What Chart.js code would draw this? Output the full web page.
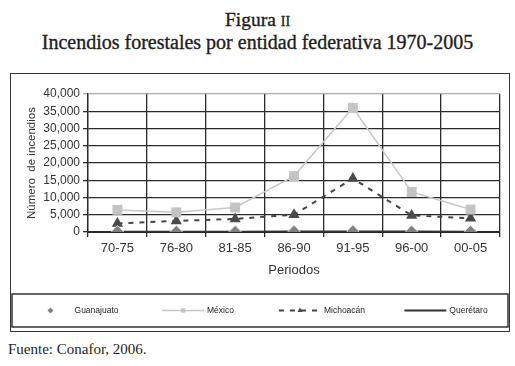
<!DOCTYPE html>
<html lang="es">
<head>
<meta charset="utf-8">
<script src="https://cdn.jsdelivr.net/npm/chart.js@4"></script>
<style>
  body {
    margin: 0;
    width: 515px;
    height: 366px;
    position: relative;
    overflow: hidden;
    background: #fff;
    color: #1e1e1e;
    font-family: "Liberation Serif", "DejaVu Serif", serif;
  }
  .title {
    position: absolute; left: 0; width: 515px; text-align: center;
    line-height: 1; -webkit-text-stroke: 0.35px #1e1e1e;
  }
  #t1 { top: 10px; font-size: 19.5px; }
  #t1 span { font-variant: small-caps; }
  #t2 { top: 32px; font-size: 20px; }
  #box { position: absolute; left: 10px; top: 73px; width: 500px; height: 260px; }
  #fuente { position: absolute; left: 8px; top: 342px; font-size: 15px; line-height: 1; }
</style>
</head>
<body>
<div class="title" id="t1">Figura <span>ii</span></div>
<div class="title" id="t2">Incendios forestales por entidad federativa 1970-2005</div>
<div id="box"><canvas id="grafica"></canvas></div>
<div id="fuente">Fuente: Conafor, 2006.</div>

<script>
// Datos
const periodos = ["70-75", "76-80", "81-85", "86-90", "91-95", "96-00", "00-05"];
const guanajuato = [150, 120, 130, 200, 250, 180, 160];
const mexico = [6400, 5700, 7100, 16200, 36000, 11600, 6500];
const michoacan = [2500, 3200, 3800, 5000, 15500, 4800, 4000];
const queretaro = [100, 80, 90, 120, 150, 110, 100];

/** Marco exterior y leyenda dibujados a mano */
const marcoLeyenda = {
  id: "marcoLeyenda",
  afterDraw(chart) {
    const ctx = chart.ctx;
    const w = chart.width;
    ctx.save();
    // marco exterior
    ctx.strokeStyle = "#333";
    ctx.lineWidth = 1;
    ctx.strokeRect(0.5, 0.5, w - 1, 258);
    // caja de la leyenda
    const top = 221, bottom = 254, left = 2, right = w - 2;
    ctx.lineWidth = 1.5;
    ctx.strokeRect(left, top, right - left, bottom - top);

    const cy = (top + bottom) / 2;
    const quarter = (right - left) / chart.data.datasets.length;
    ctx.font = "8.5px 'Liberation Sans', Arial, sans-serif";
    ctx.textBaseline = "middle";
    chart.data.datasets.forEach((ds, i) => {
      const sample = 42;
      const textW = ctx.measureText(ds.label).width;
      const itemW = sample + 3 + textW;
      const x0 = left + quarter * i + (quarter - itemW) / 2;
      ctx.save();
      if (ds.showLine !== false) {
        ctx.strokeStyle = ds.borderColor;
        ctx.lineWidth = ds.borderWidth;
        ctx.setLineDash(ds.borderDash || []);
        ctx.beginPath();
        ctx.moveTo(x0, cy);
        ctx.lineTo(x0 + sample, cy);
        ctx.stroke();
      }
      ctx.setLineDash([]);
      if (ds.pointRadius > 0) {
        ctx.fillStyle = ds.pointBackgroundColor;
        ctx.strokeStyle = ds.pointBorderColor;
        Chart.helpers.drawPoint(ctx, {
          pointStyle: ds.pointStyle,
          radius: 3,
          rotation: 0,
          borderWidth: 0,
        }, x0 + sample / 2, cy);
      }
      ctx.restore();
      ctx.fillStyle = "#222";
      ctx.fillText(ds.label, x0 + sample + 3, cy);
    });
    ctx.restore();
  },
};

new Chart(document.getElementById("grafica"), {
  type: "line",
  data: {
    labels: periodos,
    datasets: [
      {
        label: "Guanajuato",
        data: guanajuato,
        showLine: false,
        borderColor: "#777",
        borderWidth: 1,
        pointStyle: "rectRot",
        pointRadius: 6,
        pointBackgroundColor: "#808080",
        pointBorderColor: "#d8d8d8",
        pointBorderWidth: 1,
      },
      {
        label: "México",
        data: mexico,
        borderColor: "#c8c8c8",
        borderWidth: 1.5,
        pointStyle: "rect",
        pointRadius: 7,
        pointBackgroundColor: "#c4c4c4",
        pointBorderColor: "#c4c4c4",
        pointBorderWidth: 0,
      },
      {
        label: "Michoacán",
        data: michoacan,
        borderColor: "#444",
        borderWidth: 2,
        borderDash: [5, 6],
        pointStyle: "triangle",
        pointRadius: 6.5,
        pointBackgroundColor: "#4a4a4a",
        pointBorderColor: "#4a4a4a",
        pointBorderWidth: 0,
      },
      {
        label: "Querétaro",
        data: queretaro,
        borderColor: "#333",
        borderWidth: 2,
        pointRadius: 0,
        pointBackgroundColor: "#333",
        pointBorderColor: "#333",
      },
    ],
  },
  options: {
    responsive: true,
    maintainAspectRatio: false,
    animation: false,
    layout: { padding: { left: 10, right: 10, top: 21, bottom: 51 } },
    plugins: {
      legend: { display: false },
      tooltip: { enabled: false },
    },
    scales: {
      x: {
        offset: true,
        afterFit: (scale) => { scale.height = 50; },
        grid: { color: "#2a2a2a", lineWidth: 1.3, tickLength: 5, offset: true },
        border: { color: "#2a2a2a", width: 2 },
        ticks: {
          color: "#333",
          padding: 4,
          font: { family: "'Liberation Sans', Arial, sans-serif", size: 13 },
        },
        title: {
          display: true,
          text: "Periodos",
          color: "#333",
          padding: { top: 6 },
          font: { family: "'Liberation Sans', Arial, sans-serif", size: 13 },
        },
      },
      y: {
        min: 0,
        max: 40000,
        afterFit: (scale) => { scale.width = 68; },
        grid: {
          color: (c) => (c.tick && c.tick.value === 40000 ? "#aaa" : "#2a2a2a"),
          lineWidth: 1.3,
          tickLength: 5,
        },
        border: { color: "#2a2a2a", width: 1.3 },
        ticks: {
          stepSize: 5000,
          autoSkip: false,
          color: "#333",
          padding: 3,
          font: { family: "'Liberation Sans', Arial, sans-serif", size: 12 },
          callback: (v) => v.toLocaleString("en-US"),
        },
        title: {
          display: true,
          text: "Número  de incendios",
          color: "#333",
          padding: { top: 5, bottom: 0 },
          font: { family: "'Liberation Sans', Arial, sans-serif", size: 11.5 },
        },
      },
    },
  },
  plugins: [marcoLeyenda],
});
</script>
</body>
</html>
